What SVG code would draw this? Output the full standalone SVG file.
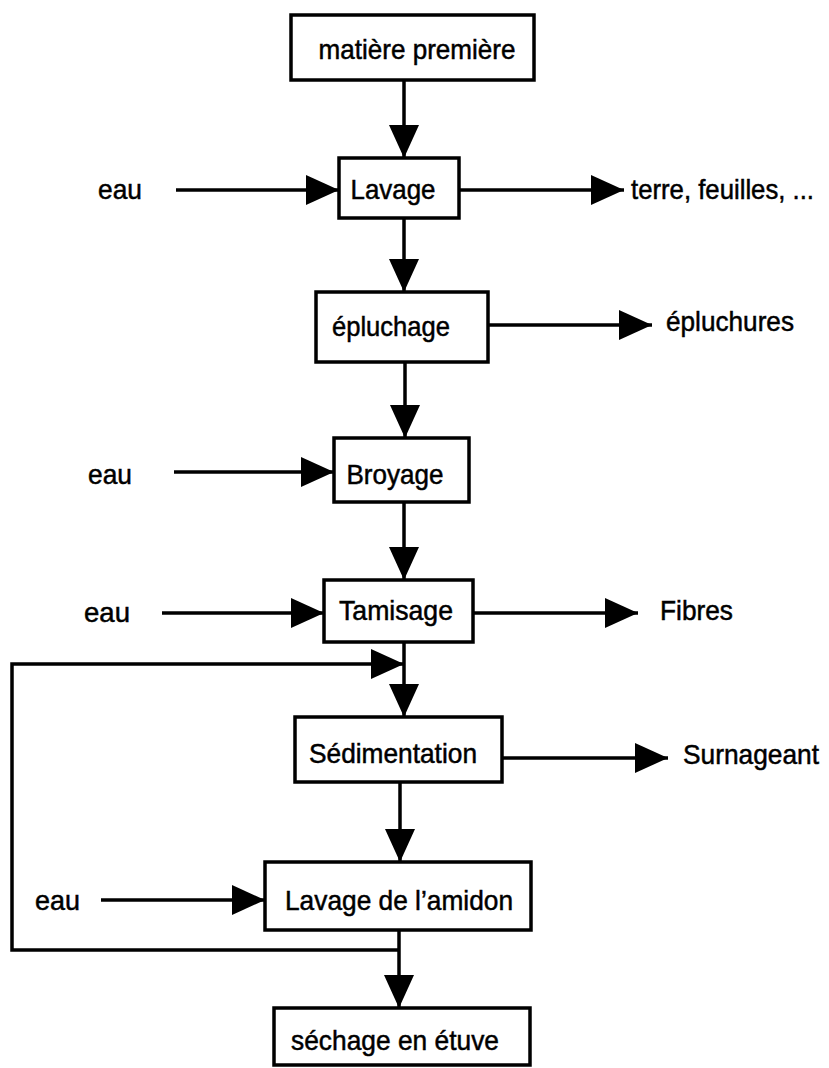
<svg xmlns="http://www.w3.org/2000/svg" width="829" height="1068" viewBox="0 0 829 1068">
<style>
.box{fill:#fff;stroke:#000;stroke-width:3.5}
.ln{fill:none;stroke:#000;stroke-width:3.5}
text{font-family:"Liberation Sans",Arial,sans-serif;font-size:28px;fill:#000;stroke:#000;stroke-width:0.5}
.c{text-anchor:middle}
</style>
<defs>
<marker id="ah" viewBox="0 0 33 30" refX="33" refY="15" markerWidth="33" markerHeight="30" markerUnits="userSpaceOnUse" orient="auto">
<path d="M0,0 L33,15 L0,30 Z" fill="#000"/>
</marker>
</defs>
<rect width="829" height="1068" fill="#fff"/>
<g id="connectors">
<path class="ln" d="M404,80 V158" marker-end="url(#ah)"/>
<path class="ln" d="M176,190 H339" marker-end="url(#ah)"/>
<path class="ln" d="M459,190 H624" marker-end="url(#ah)"/>
<path class="ln" d="M404,218 V292" marker-end="url(#ah)"/>
<path class="ln" d="M488,325 H652" marker-end="url(#ah)"/>
<path class="ln" d="M405,362 V438" marker-end="url(#ah)"/>
<path class="ln" d="M174,472 H334" marker-end="url(#ah)"/>
<path class="ln" d="M404,502 V580" marker-end="url(#ah)"/>
<path class="ln" d="M162,613 H324" marker-end="url(#ah)"/>
<path class="ln" d="M473,613 H638" marker-end="url(#ah)"/>
<path class="ln" d="M400,950 H12 V664 H404" marker-end="url(#ah)"/>
<path class="ln" d="M404,642 V717" marker-end="url(#ah)"/>
<path class="ln" d="M502,758 H668" marker-end="url(#ah)"/>
<path class="ln" d="M400,782 V862" marker-end="url(#ah)"/>
<path class="ln" d="M101,900 H265" marker-end="url(#ah)"/>
<path class="ln" d="M399,930 V1008" marker-end="url(#ah)"/>
</g>
<g id="n-matiere"><rect class="box" x="291" y="15" width="243" height="65"/><text class="c" x="417" y="59" textLength="197" lengthAdjust="spacingAndGlyphs">matière première</text></g>
<g id="n-lavage"><rect class="box" x="339" y="158" width="120" height="60"/><text class="c" x="393" y="199" textLength="85" lengthAdjust="spacingAndGlyphs">Lavage</text></g>
<g id="n-eau1"><text x="98" y="199" textLength="44" lengthAdjust="spacingAndGlyphs">eau</text></g>
<g id="n-terre"><text x="631" y="199" textLength="183" lengthAdjust="spacingAndGlyphs">terre, feuilles, ...</text></g>
<g id="n-epluchage"><rect class="box" x="316" y="292" width="172" height="70"/><text class="c" x="391" y="336" textLength="118" lengthAdjust="spacingAndGlyphs">épluchage</text></g>
<g id="n-epluchures"><text x="666" y="331" textLength="128" lengthAdjust="spacingAndGlyphs">épluchures</text></g>
<g id="n-broyage"><rect class="box" x="334" y="438" width="135" height="64"/><text class="c" x="395" y="484" textLength="97" lengthAdjust="spacingAndGlyphs">Broyage</text></g>
<g id="n-eau2"><text x="88" y="484" textLength="44" lengthAdjust="spacingAndGlyphs">eau</text></g>
<g id="n-tamisage"><rect class="box" x="324" y="580" width="149" height="62"/><text class="c" x="396" y="620" textLength="114" lengthAdjust="spacingAndGlyphs">Tamisage</text></g>
<g id="n-eau3"><text x="84" y="622" textLength="46" lengthAdjust="spacingAndGlyphs">eau</text></g>
<g id="n-fibres"><text x="660" y="620" textLength="73" lengthAdjust="spacingAndGlyphs">Fibres</text></g>
<g id="n-sedimentation"><rect class="box" x="295" y="717" width="207" height="65"/><text class="c" x="393" y="763" textLength="168" lengthAdjust="spacingAndGlyphs">Sédimentation</text></g>
<g id="n-surnageant"><text x="683" y="764" textLength="136" lengthAdjust="spacingAndGlyphs">Surnageant</text></g>
<g id="n-lavage-amidon"><rect class="box" x="265" y="862" width="266" height="68"/><text class="c" x="399" y="910" textLength="228" lengthAdjust="spacingAndGlyphs">Lavage de l’amidon</text></g>
<g id="n-eau4"><text x="35" y="910" textLength="45" lengthAdjust="spacingAndGlyphs">eau</text></g>
<g id="n-sechage"><rect class="box" x="274" y="1008" width="256" height="57"/><text class="c" x="395" y="1050" textLength="208" lengthAdjust="spacingAndGlyphs">séchage en étuve</text></g>
</svg>
